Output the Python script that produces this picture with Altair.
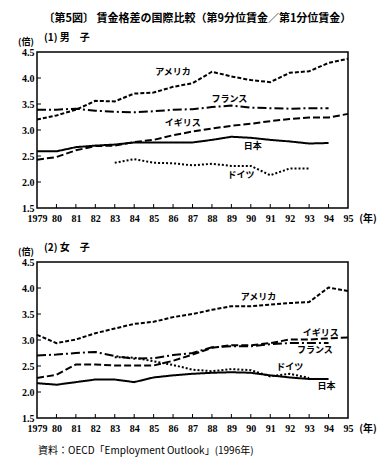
import altair as alt
import pandas as pd

years = list(range(1979, 1996))
countries = ["アメリカ", "フランス", "イギリス", "日本", "ドイツ"]

# (1) 男子
us_m = [3.20, 3.28, 3.39, 3.56, 3.55, 3.70, 3.72, 3.83, 3.90, 4.12, 4.03, 3.96, 3.92, 4.10, 4.13, 4.29, 4.37]
fr_m = [3.39, 3.39, 3.41, 3.37, 3.35, 3.34, 3.36, 3.39, 3.40, 3.44, 3.47, 3.43, 3.42, 3.41, 3.42, 3.42, None]
uk_m = [2.43, 2.48, 2.61, 2.69, 2.70, 2.77, 2.81, 2.90, 2.97, 3.03, 3.08, 3.12, 3.17, 3.21, 3.24, 3.24, 3.31]
jp_m = [2.59, 2.59, 2.67, 2.70, 2.72, 2.76, 2.76, 2.76, 2.76, 2.81, 2.87, 2.85, 2.81, 2.78, 2.74, 2.75, None]
de_m = [None, None, None, None, 2.37, 2.44, 2.37, 2.36, 2.32, 2.35, 2.31, 2.31, 2.13, 2.26, 2.26, None, None]

# (2) 女子
us_f = [3.10, 2.94, 3.01, 3.13, 3.22, 3.31, 3.35, 3.44, 3.50, 3.58, 3.65, 3.65, 3.68, 3.71, 3.73, 4.01, 3.94]
fr_f = [2.70, 2.72, 2.75, 2.77, 2.69, 2.64, 2.65, 2.71, 2.75, 2.86, 2.88, 2.88, 2.92, 2.94, 2.94, 2.94, None]
uk_f = [2.27, 2.33, 2.53, 2.53, 2.51, 2.51, 2.51, 2.60, 2.72, 2.85, 2.90, 2.90, 2.94, 3.01, 3.01, 3.03, 3.05]
jp_f = [2.17, 2.14, 2.19, 2.24, 2.24, 2.19, 2.28, 2.32, 2.35, 2.37, 2.38, 2.37, 2.32, 2.28, 2.25, 2.25, None]
de_f = [None, None, None, None, 2.67, 2.66, 2.59, 2.52, 2.43, 2.40, 2.44, 2.42, 2.30, 2.35, 2.27, None, None]

# in-plot labels (year position, value position)
lab_m_x = [86.0, 88.9, 86.5, 90.1, 89.5]
lab_m_y = [4.12, 3.60, 3.13, 2.69, 2.13]
lab_f_x = [90.4, 93.3, 93.6, 93.9, 92.0]
lab_f_y = [3.82, 2.81, 3.13, 2.11, 2.49]

y_ticks = [1.5, 2.0, 2.5, 3.0, 3.5, 4.0, 4.5]
x_inner_ticks = years[1:-1]
y_inner_ticks = [2.0, 2.5, 3.0, 3.5, 4.0]

dash_range = [[4, 2], [9, 3, 2, 3], [7, 3], [1, 0], [2, 2]]

W, H = 311, 156
FONT_JP = "Noto Sans CJK JP"
FONT_NUM = "Liberation Serif"


def long_df(series):
    rows = []
    for c, vals in zip(countries, series):
        for yr, v in zip(years, vals):
            if v is not None:
                rows.append({"year": yr, "value": v, "country": c})
    return pd.DataFrame(rows)


xs = alt.Scale(domain=[1979, 1995], nice=False, zero=False)
ys = alt.Scale(domain=[1.5, 4.5], nice=False, zero=False)
x_axis = alt.Axis(values=years, ticks=False, labelPadding=5, labelOverlap=False, labelFlush=False,
                  labelExpr="datum.value == 1979 ? '1979' : slice(toString(datum.value), 2)")
y_axis = alt.Axis(values=y_ticks, ticks=False, labelPadding=3, format=".1f",
                  labelOverlap=False, labelFlush=False)


def panel(series, lab_x, lab_y, header, source=None):
    df = long_df(series)
    lines = alt.Chart(df).mark_line(color="black", strokeWidth=2).encode(
        x=alt.X("year:Q", scale=xs, title=None, axis=x_axis),
        y=alt.Y("value:Q", scale=ys, title=None, axis=y_axis),
        strokeDash=alt.StrokeDash("country:N", scale=alt.Scale(domain=countries, range=dash_range), legend=None),
        detail="country:N",
    )
    ldf = pd.DataFrame({"country": countries, "year": [1900 + v for v in lab_x], "value": lab_y})
    labels = alt.Chart(ldf).mark_text(font=FONT_JP, fontSize=9, fontWeight="bold", color="black").encode(
        x=alt.X("year:Q", scale=xs, title=None, axis=x_axis),
        y=alt.Y("value:Q", scale=ys, title=None, axis=y_axis), text="country:N")
    tx = pd.DataFrame({"year": x_inner_ticks})
    xt = alt.Chart(tx).mark_rule(color="black", strokeWidth=1).encode(
        x=alt.X("year:Q", scale=xs, title=None, axis=x_axis), y=alt.value(H), y2=alt.value(H - 4))
    ty = pd.DataFrame({"value": y_inner_ticks})
    yt = alt.Chart(ty).mark_rule(color="black", strokeWidth=1).encode(
        y=alt.Y("value:Q", scale=ys, title=None, axis=y_axis), x=alt.value(0), x2=alt.value(4))
    unit = alt.Chart(pd.DataFrame({"t": ["(倍)"]})).mark_text(
        font=FONT_JP, fontSize=9, fontWeight="bold", align="left", baseline="middle").encode(
        x=alt.value(-19), y=alt.value(-10), text="t:N")
    head = alt.Chart(pd.DataFrame({"t": [header]})).mark_text(
        font=FONT_JP, fontSize=10, fontWeight="bold", align="left", baseline="middle").encode(
        x=alt.value(7), y=alt.value(-14), text="t:N")
    nen = alt.Chart(pd.DataFrame({"t": ["(年)"]})).mark_text(
        font=FONT_JP, fontSize=10, fontWeight="bold", align="center", baseline="middle").encode(
        x=alt.value(W + 20), y=alt.value(H + 11), text="t:N")
    layers = [lines, labels, xt, yt, unit, head, nen]
    if source:
        src = alt.Chart(pd.DataFrame({"t": [source]})).mark_text(
            font=FONT_JP, fontSize=10, align="left", baseline="middle").encode(
            x=alt.value(1), y=alt.value(H + 33), text="t:N")
        layers.append(src)
    return alt.layer(*layers).properties(width=W, height=H)


top = panel([us_m, fr_m, uk_m, jp_m, de_m], lab_m_x, lab_m_y, "(1) 男　子")
bottom = panel([us_f, fr_f, uk_f, jp_f, de_f], lab_f_x, lab_f_y, "(2) 女　子",
               source="資料：OECD「Employment Outlook」(1996年)")

chart = alt.vconcat(top, bottom, spacing=17).properties(
    title=alt.TitleParams("〔第5図〕 賃金格差の国際比較（第9分位賃金／第1分位賃金）",
                          font=FONT_JP, fontSize=11, fontWeight="bold", anchor="middle", offset=8),
    padding={"left": 9, "top": 5, "right": 5, "bottom": 5},
).configure_view(stroke="black", strokeWidth=1.5).configure_axis(
    domain=False, grid=False, labelFont=FONT_NUM, labelFontSize=10, labelFontWeight="bold",
    labelColor="black", labelOverlap=False, labelFlush=False,
)

chart.save("out.html", embed_options={"renderer": "svg", "actions": False})
